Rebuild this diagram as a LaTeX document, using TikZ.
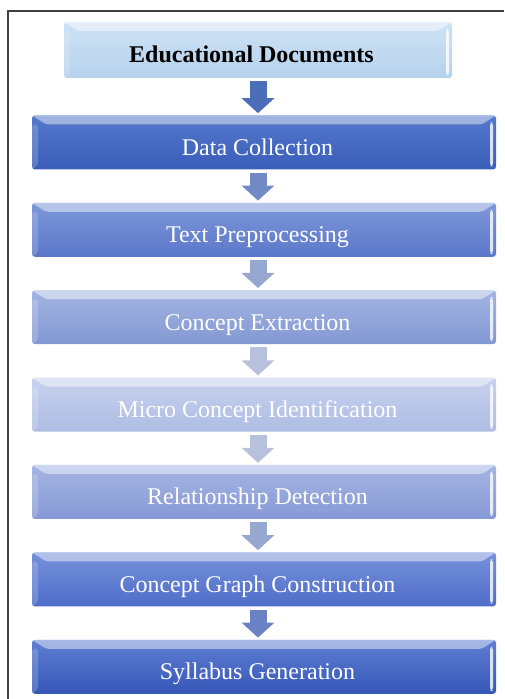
\documentclass[tikz,border=0pt]{standalone}
\usepackage{fontspec}
\setmainfont{Liberation Serif}
\usetikzlibrary{positioning,arrows.meta}

\definecolor{eduTop}{HTML}{CFE2F5}
\definecolor{eduBot}{HTML}{B5D2EC}
\definecolor{dcTop}{HTML}{5479CC}
\definecolor{dcBot}{HTML}{3A5DB8}
\definecolor{tpTop}{HTML}{7E98DA}
\definecolor{tpBot}{HTML}{5A77C9}
\definecolor{ceTop}{HTML}{A3B5E2}
\definecolor{ceBot}{HTML}{8298D3}
\definecolor{miTop}{HTML}{C8D2EE}
\definecolor{miBot}{HTML}{AEBCE4}
\definecolor{reTop}{HTML}{A5B5E3}
\definecolor{reBot}{HTML}{8799D5}
\definecolor{cgTop}{HTML}{7591DA}
\definecolor{cgBot}{HTML}{4F6DC9}
\definecolor{syTop}{HTML}{5F7ED3}
\definecolor{syBot}{HTML}{3557B6}

\tikzset{
  stage/.style={rectangle, rounded corners=3pt, minimum width=464pt, minimum height=54pt,
    text=white, text height=28pt, text depth=2pt,
    font=\fontsize{24}{28}\selectfont, execute at begin node=\hspace*{-13pt},
    path picture={
      \fill[white, opacity=0.45] (path picture bounding box.north west)
        -- (path picture bounding box.north east)
        -- ([xshift=-14pt,yshift=-9pt]path picture bounding box.north east)
        -- ([xshift=14pt,yshift=-9pt]path picture bounding box.north west) -- cycle;
      \fill[white, opacity=0.18] ([yshift=-9pt]path picture bounding box.north west)
        -- ([xshift=6pt,yshift=-9pt]path picture bounding box.north west)
        -- ([xshift=6pt,yshift=4pt]path picture bounding box.south west)
        -- (path picture bounding box.south west) -- cycle;
      \fill[white, opacity=0.8] ([xshift=-6pt,yshift=-7pt]path picture bounding box.north east)
        rectangle ([xshift=-3pt,yshift=3pt]path picture bounding box.south east);
    }},
  flowarr/.style={line width=17pt, shorten <=3pt, shorten >=2pt,
    -{Triangle[length=15pt,width=32pt]}}
}
\newcommand{\flowarrow}[3]{\draw[flowarr, #3] (#1.south -| edu) -- (#2.north -| edu);}

\begin{document}
\begin{tikzpicture}[x=1pt, y=1pt]
  \useasboundingbox (0,0) rectangle (504,699);
  % frame
  \draw[line width=1.2pt, black!75] (8,0) -- (8,688) -- (504,688);

  \node[stage, minimum width=388pt, minimum height=56pt, text=black,
        font=\fontsize{24}{28}\selectfont\bfseries, execute at begin node={},
        top color=eduTop, bottom color=eduBot]   (edu) at (258,649) {Educational Documents};
  \node[stage, below=37pt of edu, xshift=6pt,
        top color=dcTop, bottom color=dcBot]     (dc)  {Data Collection};
  \node[stage, below=33pt of dc,
        top color=tpTop, bottom color=tpBot]     (tp)  {Text Preprocessing};
  \node[stage, below=33pt of tp,
        top color=ceTop, bottom color=ceBot]     (ce)  {Concept Extraction};
  \node[stage, below=33pt of ce,
        top color=miTop, bottom color=miBot]     (mi)  {Micro Concept Identification};
  \node[stage, below=33pt of mi,
        top color=reTop, bottom color=reBot]     (re)  {Relationship Detection};
  \node[stage, below=33pt of re,
        top color=cgTop, bottom color=cgBot]     (cg)  {Concept Graph Construction};
  \node[stage, below=33pt of cg,
        top color=syTop, bottom color=syBot]     (sy)  {Syllabus Generation};

  \flowarrow{edu}{dc}{color=dcTop!90!black}
  \flowarrow{dc}{tp}{color=tpTop!90!black}
  \flowarrow{tp}{ce}{color=ceTop!92!black}
  \flowarrow{ce}{mi}{color=miTop!92!black}
  \flowarrow{mi}{re}{color=miTop!92!black}
  \flowarrow{re}{cg}{color=ceTop!92!black}
  \flowarrow{cg}{sy}{color=cgTop!90!black}
\end{tikzpicture}
\end{document}
